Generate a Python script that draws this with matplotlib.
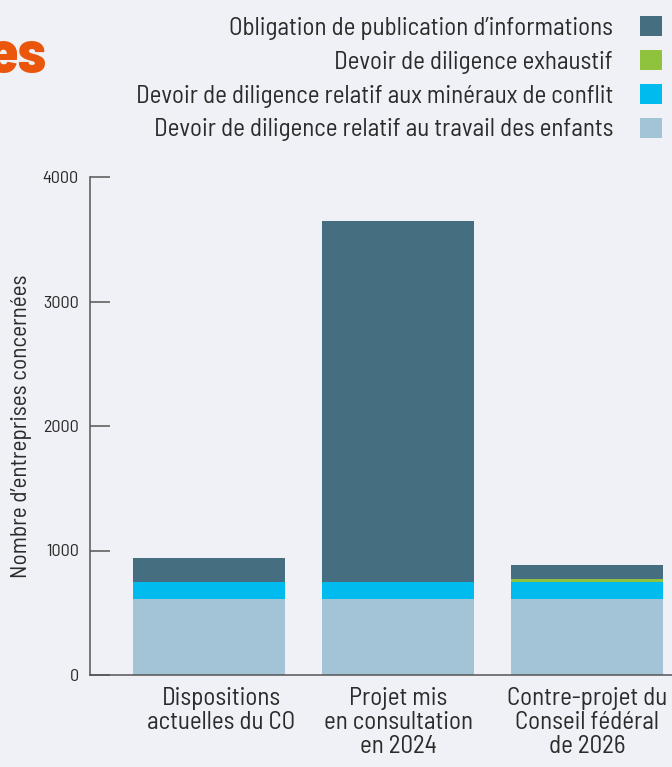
import numpy as np
import matplotlib
matplotlib.use("Agg")
import matplotlib.pyplot as plt
from matplotlib.transforms import ScaledTranslation

categories = ["Dispositions\nactuelles du CO",
              "Projet mis\nen consultation\nen 2024",
              "Contre-projet du\nConseil fédéral\nde 2026"]
travail_enfants = [610, 610, 610]
mineraux = [137, 137, 137]
exhaustif = [0, 0, 24]
publication = [193, 2900, 113]

series_labels = ["Devoir de diligence relatif au travail des enfants",
                 "Devoir de diligence relatif aux minéraux de conflit",
                 "Devoir de diligence exhaustif",
                 "Obligation de publication d’informations"]
colors = ["#a3c3d6", "#00bbee", "#8fc23d", "#456e80"]

bg = "#f0f1f6"
plt.rcParams['font.family'] = ['Barlow Semi Condensed', 'Roboto Condensed', 'DejaVu Sans']

fig = plt.figure(figsize=(6.72, 7.67), dpi=100, facecolor=bg)
ax = fig.add_axes([90/672, 1-675/767, 1-90/672, (675-177)/767])
ax.set_facecolor(bg)

x = np.arange(len(categories))
bottom = np.zeros(len(categories))
handles = []
for vals, lab, c in zip([travail_enfants, mineraux, exhaustif, publication], series_labels, colors):
    b = ax.bar(x, vals, 0.804, bottom=bottom, color=c, label=lab)
    bottom += np.array(vals)
    handles.append(b)

ax.set_xlim(-0.63, 2.45)
ax.set_ylim(0, 4000)
ax.set_yticks([0, 1000, 2000, 3000, 4000])
ax.set_xticks(x)
ax.set_xticklabels(categories, fontsize=18, color="#2b2b2b", linespacing=1.05)
ax.tick_params(axis='x', length=0, pad=9)
ax.tick_params(axis='y', direction='in', length=14.4, width=1.1, color="#555555",
               labelsize=13, labelcolor="#2b2b2b", pad=8)
# first label sits a bit right of its bar in the original
lbl = ax.get_xticklabels()[0]
lbl.set_transform(lbl.get_transform() + ScaledTranslation(0.12, 0, fig.dpi_scale_trans))

for s in ["top", "right"]:
    ax.spines[s].set_visible(False)
for s in ["left", "bottom"]:
    ax.spines[s].set_color("#555555")
    ax.spines[s].set_linewidth(1.1)
ax.set_ylabel("Nombre d’entreprises concernées", fontsize=16.7, color="#2b2b2b", labelpad=8)

leg = fig.legend(handles[::-1], series_labels[::-1], loc="upper right",
                 bbox_to_anchor=(662/672, 1-16/767), frameon=False, markerfirst=False,
                 fontsize=18, handlelength=0.88, handleheight=0.88, labelspacing=0.40,
                 handletextpad=1.08, borderpad=0, borderaxespad=0)
for t in leg.get_texts():
    t.set_color("#2b2b2b")

fig.text(46/672, 1-57/767, "es", ha="right", va="center", fontsize=44,
         fontweight="heavy", color="#e9560c")

fig.savefig("out.png", dpi=100, facecolor=bg)
